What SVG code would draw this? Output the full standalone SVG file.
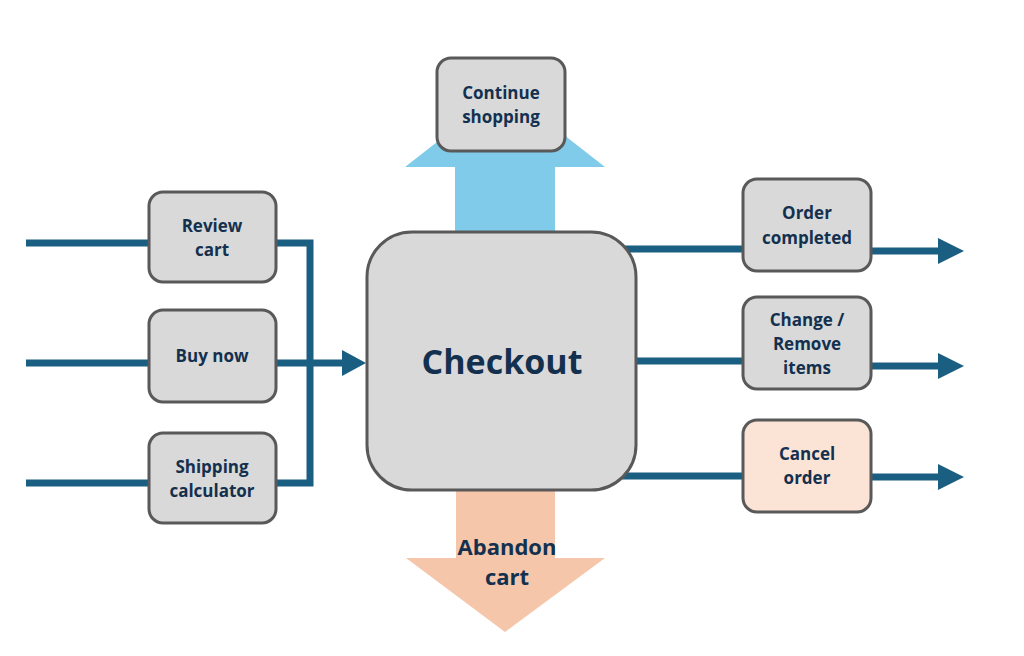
<svg xmlns="http://www.w3.org/2000/svg" width="1024" height="656" viewBox="0 0 1024 656">
<style>
.box{fill:#d9d9d9;stroke:#595959;stroke-width:3}
.cancel{fill:#fbe3d6;stroke:#595959;stroke-width:3}
.ln{fill:none;stroke:#1a5f82;stroke-width:7}
.hd{fill:#1a5f82}
.t{font-family:"Open Sans","Liberation Sans",sans-serif;font-weight:bold;font-size:17px;fill:#13304f;text-anchor:middle;dominant-baseline:central}
</style>
<rect width="1024" height="656" fill="#fff"/>
<g id="continue-arrow"><polygon points="505,89 605,167 555,167 555,240 455,240 455,167 405,167" fill="#80cbea"/></g>
<g id="abandon-arrow"><polygon points="456,480 555,480 555,558 605,558 505,632 406,558 456,558" fill="#f5c6aa"/>
<text class="t" x="507" y="546" style="font-size:22px">Abandon</text><text class="t" x="507" y="576" style="font-size:22px">cart</text></g>
<g id="connectors">
<path class="ln" d="M26,243H149M26,363H149M26,483H149"/>
<path class="ln" d="M276,243H310V483H276M276,363H345"/>
<polygon class="hd" points="342,350 366,363 342,376"/>
<path class="ln" d="M620,249H743M620,361H743M620,476H743"/>
<path class="ln" d="M871,251H940M871,366H940M871,477H940"/>
<polygon class="hd" points="938,238 964,251 938,264"/>
<polygon class="hd" points="938,353 964,366 938,379"/>
<polygon class="hd" points="938,464 964,477 938,490"/>
</g>
<g id="checkout"><rect class="box" x="367" y="232" width="269" height="258" rx="45"/><text class="t" x="502" y="361" style="font-size:34px">Checkout</text></g>
<g id="continue"><rect class="box" x="437" y="58" width="128" height="93" rx="14"/><text class="t" x="501" y="92">Continue</text><text class="t" x="501" y="116">shopping</text></g>
<g id="review"><rect class="box" x="149" y="192" width="127" height="90" rx="14"/><text class="t" x="212" y="225">Review</text><text class="t" x="212" y="249">cart</text></g>
<g id="buynow"><rect class="box" x="149" y="310" width="127" height="92" rx="14"/><text class="t" x="212" y="355">Buy now</text></g>
<g id="shipping"><rect class="box" x="149" y="433" width="127" height="90" rx="14"/><text class="t" x="212" y="466">Shipping</text><text class="t" x="212" y="490">calculator</text></g>
<g id="order"><rect class="box" x="743" y="179" width="128" height="92" rx="14"/><text class="t" x="807" y="212">Order</text><text class="t" x="807" y="237">completed</text></g>
<g id="change"><rect class="box" x="743" y="297" width="128" height="92" rx="14"/><text class="t" x="807" y="319">Change /</text><text class="t" x="807" y="343">Remove</text><text class="t" x="807" y="367">items</text></g>
<g id="cancel"><rect class="cancel" x="743" y="420" width="128" height="92" rx="14"/><text class="t" x="807" y="453">Cancel</text><text class="t" x="807" y="477">order</text></g>
</svg>
